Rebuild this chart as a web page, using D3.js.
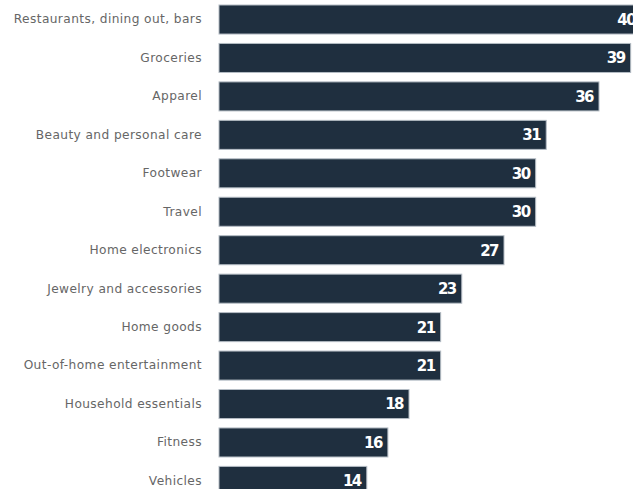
<!DOCTYPE html>
<html>
<head>
<meta charset="utf-8">
<script src="https://cdn.jsdelivr.net/npm/d3@7"></script>
<style>
  body { margin: 0; background: #fff; overflow: hidden; }
  svg { display: block; }
</style>
</head>
<body>
<svg id="chart"></svg>
<script>
// kategori dan nilai
var categories = ['Restaurants, dining out, bars', 'Groceries', 'Apparel', 'Beauty and personal care',
  'Footwear', 'Travel', 'Home electronics', 'Jewelry and accessories', 'Home goods',
  'Out-of-home entertainment', 'Household essentials', 'Fitness', 'Vehicles'];
var values = [40, 39, 36, 31, 30, 30, 27, 23, 21, 21, 18, 16, 14];

var width = 633, height = 489;
var left = 219;
var step = 38.45, pad = 0.245;

var svg = d3.select('#chart')
  .attr('width', width)
  .attr('height', height);

var x = d3.scaleLinear()
  .domain([0, 36])
  .range([left, 599]);

var y = d3.scaleBand()
  .domain(categories)
  .range([5, 5 + step * (categories.length - pad)])
  .paddingInner(pad)
  .paddingOuter(0);

var data = categories.map(function(c, i) { return {cat: c, val: values[i]}; });

// label kategori
var yAxis = d3.axisLeft(y).tickSize(0).tickPadding(17);
var ax = svg.append('g')
  .attr('transform', 'translate(' + left + ',0)')
  .call(yAxis);
ax.select('.domain').remove();
ax.selectAll('text')
  .attr('fill', '#666666')
  .style('font-family', 'DejaVu Sans, sans-serif')
  .style('font-size', '12.2px')
  .style('letter-spacing', '0.4px');

svg.selectAll('.bar')
  .data(data)
  .enter().append('rect')
  .attr('class', 'bar')
  .attr('x', x(0))
  .attr('y', function(d) { return y(d.cat); })
  .attr('width', function(d) { return x(d.val) - x(0); })
  .attr('height', y.bandwidth())
  .attr('fill', '#1f2f3f')
  .attr('stroke', '#b4bcc4')
  .attr('stroke-width', 1);

svg.selectAll('.val')
  .data(data)
  .enter().append('text')
  .attr('class', 'val')
  .attr('x', function(d) { return x(d.val) - 6; })
  .attr('y', function(d) { return y(d.cat) + y.bandwidth() / 2; })
  .attr('dy', '0.36em')
  .attr('text-anchor', 'end')
  .attr('fill', '#ffffff')
  .style('font-family', 'DejaVu Sans, sans-serif')
  .style('font-weight', 'bold')
  .style('font-size', '15px')
  .style('letter-spacing', '-1.5px')
  .text(function(d) { return d.val; });
</script>
</body>
</html>
